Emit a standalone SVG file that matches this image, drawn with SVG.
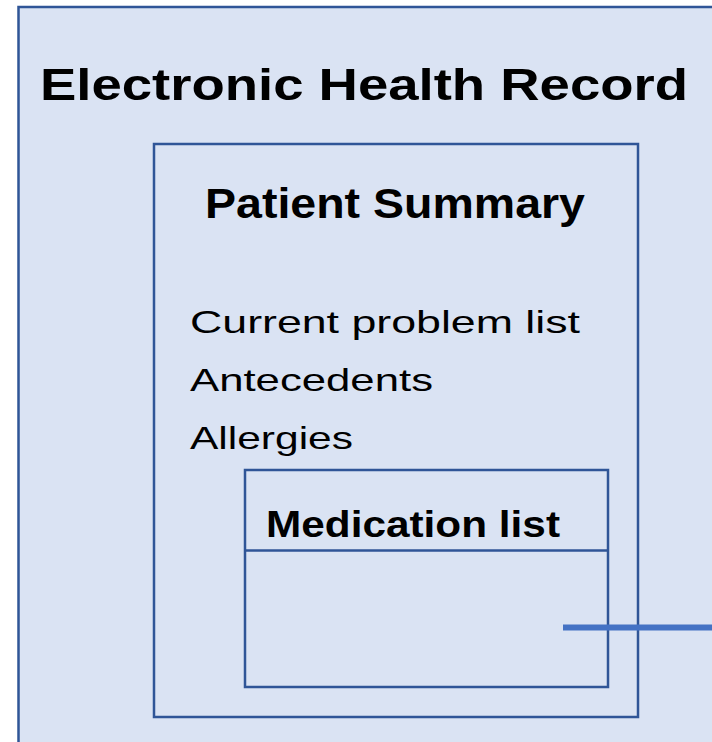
<svg xmlns="http://www.w3.org/2000/svg" width="712" height="742" viewBox="0 0 712 742">
<style>
.box{fill:#DAE3F3;stroke:#2F5597;stroke-width:2.5}
.b{font-family:"Liberation Sans",Arial,sans-serif;font-weight:bold;fill:#000}
.r{font-family:"Liberation Sans",Arial,sans-serif;fill:#000}
</style>
<rect x="0" y="0" width="712" height="742" fill="#fff"/>
<g id="ehr">
<rect class="box" x="18.5" y="7" width="710" height="750"/>
<text class="b" x="40" y="100" font-size="45" textLength="648" lengthAdjust="spacingAndGlyphs">Electronic Health Record</text>
</g>
<g id="patient-summary">
<rect class="box" x="154" y="144" width="484" height="573"/>
<text class="b" x="205" y="217.5" font-size="42" textLength="380" lengthAdjust="spacingAndGlyphs">Patient Summary</text>
<text class="r" x="190" y="333" font-size="30.5" textLength="390" lengthAdjust="spacingAndGlyphs">Current problem list</text>
<text class="r" x="190" y="391" font-size="30.5" textLength="243" lengthAdjust="spacingAndGlyphs">Antecedents</text>
<text class="r" x="190" y="449" font-size="30.5" textLength="163" lengthAdjust="spacingAndGlyphs">Allergies</text>
</g>
<g id="medication-list">
<rect class="box" x="245" y="470" width="363" height="217"/>
<line x1="245" y1="550.5" x2="608" y2="550.5" stroke="#2F5597" stroke-width="2.5"/>
<text class="b" x="266" y="536.5" font-size="37" textLength="294" lengthAdjust="spacingAndGlyphs">Medication list</text>
</g>
<g id="connectors">
<line x1="563" y1="627.5" x2="712" y2="627.5" stroke="#4472C4" stroke-width="6"/>
</g>
</svg>
